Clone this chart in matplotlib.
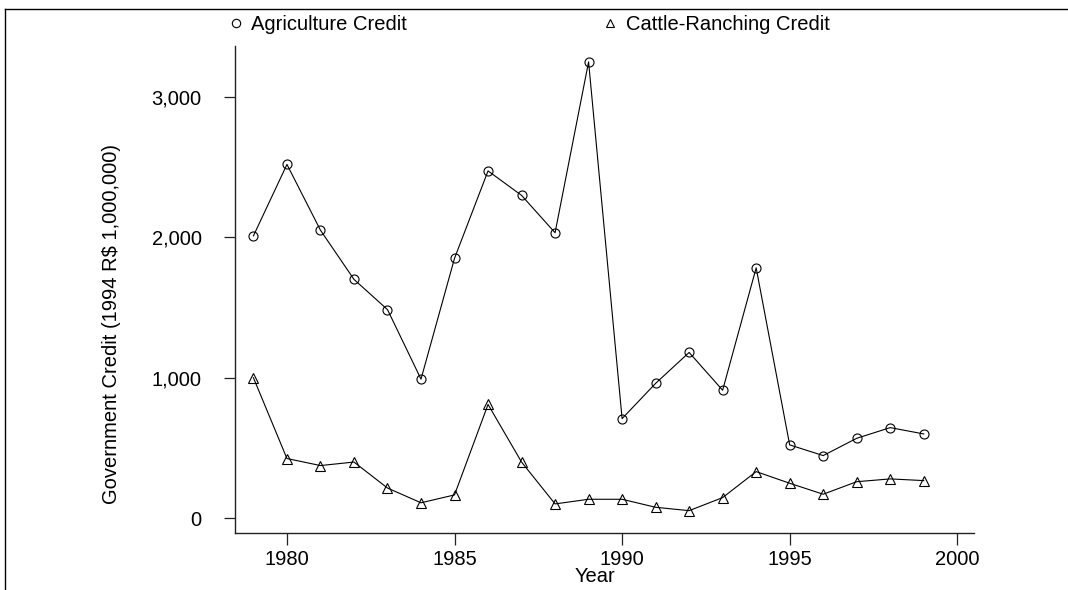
import matplotlib
matplotlib.use("Agg")
import matplotlib.pyplot as plt
from matplotlib.lines import Line2D
from matplotlib.ticker import FuncFormatter

plt.rcParams['font.family'] = ['Liberation Sans', 'DejaVu Sans']

years = list(range(1979, 2000))
agriculture = [2010, 2518, 2050, 1700, 1485, 990, 1850, 2472, 2298, 2032, 3248,
               709, 960, 1180, 911, 1782, 522, 446, 569, 645, 600]
cattle = [1000, 425, 375, 400, 215, 110, 166, 810, 400, 102, 135,
          135, 78, 54, 147, 332, 249, 171, 260, 280, 268]
x_ticks = [1980, 1985, 1990, 1995, 2000]
y_ticks = [0, 1000, 2000, 3000]

W, H = 1068, 590
fig = plt.figure(figsize=(W / 100, H / 100), dpi=100)
ax = fig.add_axes([235 / W, 1 - 533 / H, (974 - 235) / W, (533 - 46) / H])

FS = 14.5
line_kw = dict(color='black', lw=0.8, mfc='none', mec='black', mew=0.8)
ax.plot(years, agriculture, marker='o', ms=6.5, **line_kw)
ax.plot(years, cattle, marker='^', ms=6.5, **line_kw)

ax.set_xlim(1978.45, 2000.5)
ax.set_ylim(-105, 3361)
ax.set_xticks(x_ticks)
ax.set_yticks(y_ticks)
ax.yaxis.set_major_formatter(FuncFormatter(lambda v, p: f"{int(v):,}"))

for s in ('top', 'right'):
    ax.spines[s].set_visible(False)
for s in ('left', 'bottom'):
    ax.spines[s].set_linewidth(1.0)
    ax.spines[s].set_color('#222222')

ax.tick_params(axis='x', direction='out', length=8.6, width=0.9, pad=3.5,
               labelsize=FS, color='#222222')
ax.tick_params(axis='y', direction='out', length=8, width=0.9, pad=16,
               labelsize=FS, color='#222222')

# axis titles
fig.text(112 / W, 1 - 324 / H, "Government Credit (1994 R$ 1,000,000)",
         rotation=90, ha='center', va='center', fontsize=FS)
fig.text(595 / W, 1 - 577 / H, "Year", ha='center', va='center', fontsize=FS)

# legend across the top
handles = [
    Line2D([], [], ls='none', marker='o', ms=6, mfc='none', mec='black', mew=0.8),
    Line2D([], [], ls='none', marker='^', ms=6, mfc='none', mec='black', mew=0.8),
]
fig.legend(handles, ["Agriculture Credit", "Cattle-Ranching Credit"],
           ncol=2, frameon=False, fontsize=FS, loc='center left',
           bbox_to_anchor=(228 / W, 1 - 25 / H), bbox_transform=fig.transFigure,
           borderpad=0, borderaxespad=0, handlelength=0.8, handletextpad=0.35,
           columnspacing=9.7)

# outer frame
fig.add_artist(Line2D([5 / W, 5 / W], [0, 1 - 9 / H], transform=fig.transFigure,
                      color='black', lw=1.0))
fig.add_artist(Line2D([5 / W, 1], [1 - 9 / H, 1 - 9 / H], transform=fig.transFigure,
                      color='black', lw=1.0))

fig.savefig("out.png", dpi=100, facecolor='white')
